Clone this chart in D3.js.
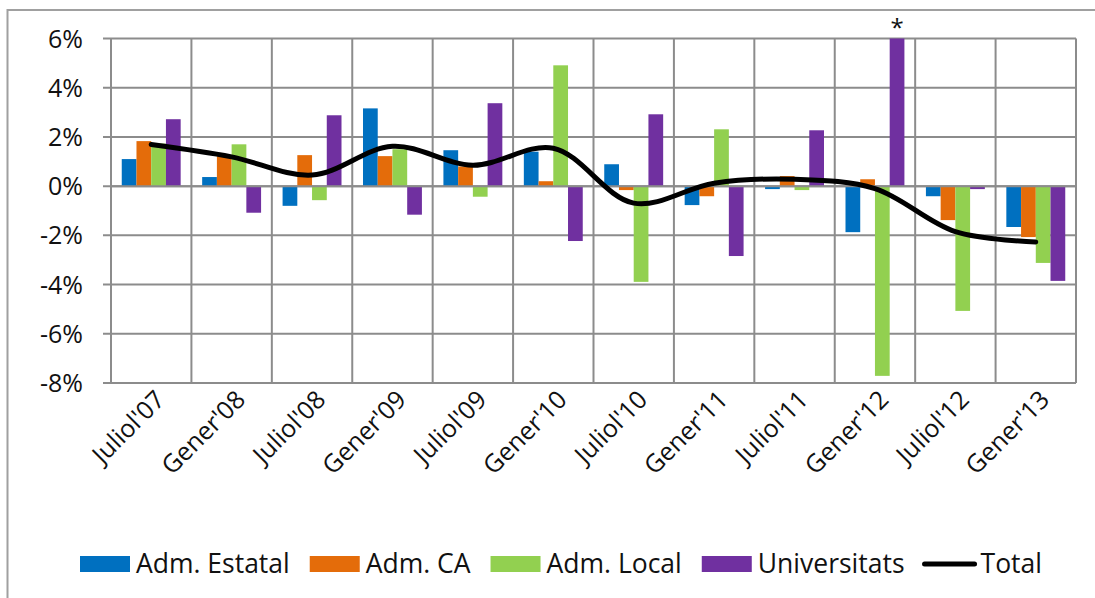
<!DOCTYPE html>
<html>
<head>
<meta charset="utf-8">
<script src="https://cdn.jsdelivr.net/npm/d3@7"></script>
<style>
  body { margin: 0; background: #fff; }
  svg { display: block; font-family: "Open Sans", "Noto Sans", sans-serif; }
</style>
</head>
<body>
<div class="container"></div>
<script>
const categories = ["Juliol'07", "Gener'08", "Juliol'08", "Gener'09", "Juliol'09", "Gener'10",
  "Juliol'10", "Gener'11", "Juliol'11", "Gener'12", "Juliol'12", "Gener'13"];
const seriesNames = ['Adm. Estatal', 'Adm. CA', 'Adm. Local', 'Universitats'];
const admEstatal = [1.10, 0.37, -0.80, 3.16, 1.46, 1.40, 0.89, -0.77, -0.12, -1.87, -0.41, -1.66];
const admCA = [1.83, 1.22, 1.26, 1.22, 0.80, 0.20, -0.16, -0.41, 0.41, 0.28, -1.38, -2.07];
const admLocal = [1.73, 1.70, -0.57, 1.50, -0.43, 4.91, -3.89, 2.31, -0.16, -7.71, -5.07, -3.12];
const universitats = [2.72, -1.08, 2.88, -1.16, 3.37, -2.23, 2.92, -2.84, 2.27, 6.0, -0.12, -3.85];
const total = [1.69, 1.19, 0.45, 1.62, 0.85, 1.54, -0.69, 0.12, 0.28, -0.10, -1.85, -2.27];
const yTicks = [-8, -6, -4, -2, 0, 2, 4, 6];
const colors = ['#0070c0', '#e46c0a', '#92d050', '#7030a0'];

const renderChart = () => {
  const width = 1095;
  const height = 598;
  const left = 111, right = 1076, top = 38.5, bottom = 383;
  const gridColor = '#8c8c8c';

  const svg = d3.select('.container').append('svg').attr('width', width).attr('height', height);

  // frame
  svg.append('path')
    .attr('d', `M7.5,${height} V10 H${width}`)
    .attr('fill', 'none').attr('stroke', '#a0a0a0').attr('stroke-width', 2);

  const xScale = d3.scaleBand().domain(categories).range([left, right]);
  const subScale = d3.scaleBand().domain(seriesNames).range([0, xScale.bandwidth()]).paddingOuter(0.73);
  const yScale = d3.scaleLinear().domain([-8, 6]).range([bottom, top]);

  const grid = svg.append('g').attr('class', 'grid');
  grid.selectAll('line.h').data(yTicks).enter().append('line')
    .attr('x1', left - 8).attr('x2', right)
    .attr('y1', d => yScale(d)).attr('y2', d => yScale(d))
    .attr('stroke', gridColor).attr('stroke-width', 2);
  const vLines = categories.map(c => xScale(c)).concat([right]);
  grid.selectAll('line.v').data(vLines).enter().append('line')
    .attr('x1', d => d).attr('x2', d => d)
    .attr('y1', top).attr('y2', bottom)
    .attr('stroke', gridColor).attr('stroke-width', 2);

  svg.append('g').selectAll('text').data(yTicks).enter().append('text')
    .attr('x', 83).attr('y', d => yScale(d) + 9)
    .attr('text-anchor', 'end').attr('font-size', 25).attr('fill', '#111')
    .text(d => d + '%');

  const seriesData = [admEstatal, admCA, admLocal, universitats];
  const bars = svg.append('g').attr('class', 'bars');
  seriesNames.forEach((name, i) => {
    bars.selectAll(`rect.s${i}`).data(seriesData[i]).enter().append('rect')
      .attr('x', (d, j) => xScale(categories[j]) + subScale(name))
      .attr('width', subScale.bandwidth())
      .attr('y', d => yScale(Math.max(0, d)))
      .attr('height', d => Math.abs(yScale(d) - yScale(0)))
      .attr('fill', colors[i]);
  });

  // zero line over the bars
  svg.append('line')
    .attr('x1', left).attr('x2', right)
    .attr('y1', yScale(0)).attr('y2', yScale(0))
    .attr('stroke', gridColor).attr('stroke-width', 2);

  // asterisk on the clipped bar
  const starIdx = universitats.indexOf(6.0);
  svg.append('text')
    .attr('x', xScale(categories[starIdx]) + subScale('Universitats') + subScale.bandwidth() / 2)
    .attr('y', 36).attr('text-anchor', 'middle').attr('font-size', 24).attr('fill', '#111')
    .text('*');

  const line = d3.line()
    .x((d, j) => xScale(categories[j]) + xScale.bandwidth() / 2)
    .y(d => yScale(d))
    .curve(d3.curveCatmullRom.alpha(0.5));
  svg.append('path').datum(total)
    .attr('d', line).attr('fill', 'none')
    .attr('stroke', '#000').attr('stroke-width', 5).attr('stroke-linecap', 'round');

  svg.append('g').selectAll('text').data(categories).enter().append('text')
    .attr('transform', c => `translate(${xScale(c) + xScale.bandwidth() / 2 + 9},${bottom + 12}) rotate(-45)`)
    .attr('text-anchor', 'end').attr('dy', '0.35em')
    .attr('font-size', 25).attr('fill', '#111')
    .text(c => c);

  // legend
  const legend = svg.append('g').attr('class', 'legend');
  const items = seriesNames.concat(['Total']);
  let lx = 80;
  items.forEach((name, i) => {
    if (i < 4) {
      legend.append('rect').attr('x', lx).attr('y', 556).attr('width', 50).attr('height', 16).attr('fill', colors[i]);
    } else {
      legend.append('line').attr('x1', lx).attr('x2', lx + 50).attr('y1', 564).attr('y2', 564)
        .attr('stroke', '#000').attr('stroke-width', 5).attr('stroke-linecap', 'round');
    }
    const t = legend.append('text').attr('x', lx + 56).attr('y', 573)
      .attr('font-size', 26.5).attr('fill', '#111').text(name);
    lx += 56 + t.node().getComputedTextLength() + 20;
  });
};

renderChart();
</script>
</body>
</html>
